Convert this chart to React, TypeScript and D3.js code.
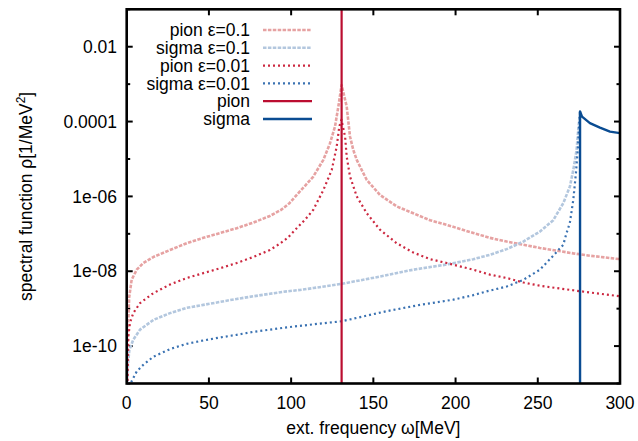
import React from "react";
import * as d3 from "d3";

// ω [MeV] values and spectral function ρ [1/MeV²]
const pionEps01W = [0.3, 0.8, 1.5, 3.0, 6.1, 10.1, 16.2, 26.3, 36.5, 46.6, 56.7, 66.9, 77.0, 87.1, 94, 99, 104, 109, 113.5, 119.6, 123.6, 126.7, 128.7, 130.7, 133.8, 135.8, 137.8, 139.9, 142.9, 146.0, 154.0, 164.2, 174.3, 184.5, 194.6, 202.7, 210.8, 220.9, 231.1, 241.2, 251.3, 261.5, 271.6, 281.8, 300];
const pionEps01V = [6.3e-12, 3.2e-10, 2.0e-9, 5.9e-9, 1.1e-8, 1.66e-8, 2.4e-8, 3.7e-8, 5.6e-8, 7.8e-8, 1.05e-7, 1.41e-7, 2.0e-7, 3.0e-7, 4.4e-7, 6.6e-7, 1.17e-6, 2.04e-6, 3.4e-6, 9.5e-6, 2.6e-5, 7.4e-5, 2.5e-4, 9.5e-4, 2.5e-4, 4.0e-5, 1.74e-5, 9.5e-6, 5.1e-6, 2.75e-6, 1.1e-6, 5.4e-7, 3.55e-7, 2.3e-7, 1.74e-7, 1.35e-7, 1.05e-7, 7.8e-8, 6.2e-8, 5.1e-8, 4.2e-8, 3.55e-8, 3.0e-8, 2.6e-8, 2.1e-8];

const sigmaEps01W = [0.3, 0.8, 1.6, 4.0, 8.1, 16.2, 26.3, 36.5, 46.6, 56.7, 66.9, 77.0, 87.1, 97.3, 105.4, 113.5, 130.7, 154.0, 174.3, 194.6, 210.8, 220.9, 231.1, 241.2, 251.3, 259.4, 265.5, 269.5, 271.6, 273.6, 274.6, 275.6, 275.7];
const sigmaEps01V = [7.9e-12, 3.2e-11, 7.9e-11, 1.48e-10, 2.75e-10, 5.0e-10, 7.6e-10, 1.05e-9, 1.26e-9, 1.51e-9, 1.82e-9, 2.14e-9, 2.5e-9, 2.9e-9, 3.16e-9, 3.55e-9, 4.6e-9, 7.2e-9, 1.1e-8, 1.51e-8, 2.1e-8, 2.75e-8, 3.9e-8, 6.2e-8, 1.15e-7, 2.3e-7, 6.6e-7, 1.82e-6, 5.1e-6, 1.74e-5, 6.0e-5, 1.66e-4, 1.86e-4];

const pionEps001W = [0.4, 1.0, 2.0, 4.0, 8.1, 16.2, 26.3, 36.5, 46.6, 56.7, 66.9, 77.0, 87.1, 93, 98, 103.4, 108.5, 113.5, 119.6, 124.7, 127.7, 129.3, 130.6, 131.8, 132.8, 133.8, 135.8, 139.9, 146.0, 154.0, 164.2, 174.3, 184.5, 194.6, 202.7, 210.8, 220.9, 231.1, 241.2, 251.3, 261.5, 271.6, 281.8, 300];
const pionEps001V = [6.3e-12, 1.82e-10, 4.2e-10, 7.6e-10, 1.41e-9, 2.6e-9, 4.4e-9, 6.6e-9, 8.9e-9, 1.2e-8, 1.66e-8, 2.4e-8, 3.7e-8, 5.4e-8, 7.9e-8, 1.41e-7, 2.4e-7, 4.4e-7, 1.48e-6, 5.1e-6, 2.14e-5, 7.4e-5, 1.12e-4, 6.3e-5, 4.0e-5, 1.15e-5, 3.4e-6, 1.0e-6, 3.55e-7, 1.29e-7, 5.6e-8, 3.16e-8, 2.1e-8, 1.66e-8, 1.35e-8, 1.1e-8, 8.1e-9, 6.6e-9, 5.0e-9, 4.1e-9, 3.55e-9, 3.1e-9, 2.7e-9, 2.14e-9];

const sigmaEps001W = [2.5, 3.0, 6.1, 10.1, 16.2, 26.3, 36.5, 46.6, 56.7, 66.9, 77.0, 87.1, 97.3, 105.4, 117.6, 130.7, 157.7, 178.3, 198.6, 210.8, 218.9, 231.1, 241.2, 251.3, 259.4, 265.5, 267.5, 269.5, 271.6, 273.2, 274.3, 275.2, 275.7];
const sigmaEps001V = [7.9e-12, 1.15e-11, 2.1e-11, 3.16e-11, 5.2e-11, 8.3e-11, 1.15e-10, 1.41e-10, 1.7e-10, 2.0e-10, 2.4e-10, 2.75e-10, 3.16e-10, 3.47e-10, 4.0e-10, 4.6e-10, 8.5e-10, 1.26e-9, 1.74e-9, 2.3e-9, 2.9e-9, 3.9e-9, 5.9e-9, 1.1e-8, 2.6e-8, 5.1e-8, 1.05e-7, 1.95e-7, 8.1e-7, 4.2e-6, 1.74e-5, 9.1e-5, 1.86e-4];

const pionW = [130.7, 130.7];
const pionV = [1e-20, 1e2];

const sigmaW = [275.7, 275.7, 276.9, 281.7, 287.8, 293.9, 300];
const sigmaV = [1e-20, 1.86e-4, 1.35e-4, 9.1e-5, 6.9e-5, 5.4e-5, 4.9e-5];

const seriesNames = ["pion ε=0.1", "sigma ε=0.1", "pion ε=0.01", "sigma ε=0.01", "pion", "sigma"];
const xTicks = [0, 50, 100, 150, 200, 250, 300];
const yMajorTicks = [1e-10, 1e-8, 1e-6, 1e-4, 1e-2];
const yMajorLabels = ["1e-10", "1e-08", "1e-06", "0.0001", "0.01"];
const yMinorTicks = [1e-11, 1e-9, 1e-7, 1e-5, 1e-3, 1e-1];

const FONT = "'Liberation Sans', Arial, Helvetica, sans-serif";
const FS = 17.5;

export default function App() {
  const W = 638, H = 441;
  const left = 126.7, right = 620, top = 9.3, bottom = 383.5;
  const x = d3.scaleLinear().domain([0, 300]).range([left, right]);
  const y = d3.scaleLog().domain([1e-11, 0.1]).range([bottom, top]);

  const styles = [
    { color: "#e6a2a2", width: 2.6, dash: "3.5,1.4" },
    { color: "#b3c7de", width: 2.6, dash: "3.5,1.4" },
    { color: "#cc2840", width: 2.2, dash: "2,3" },
    { color: "#3a72b2", width: 2.2, dash: "2,3" },
    { color: "#bb0d30", width: 2.2, dash: "" },
    { color: "#0a4c92", width: 2.4, dash: "" },
  ];
  const data: [number[], number[]][] = [
    [pionEps01W, pionEps01V],
    [sigmaEps01W, sigmaEps01V],
    [pionEps001W, pionEps001V],
    [sigmaEps001W, sigmaEps001V],
    [pionW, pionV],
    [sigmaW, sigmaV],
  ];
  const line = d3
    .line<[number, number]>()
    .x((d) => x(d[0]))
    .y((d) => y(d[1]));

  const legendRowY = (i: number) => 30 + i * 17.8;

  return (
    <svg width={W} height={H} style={{ display: "block", position: "absolute", left: 0, top: 0 }} fontFamily={FONT}>
      <rect x={0} y={0} width={W} height={H} fill="#fff" />
      <defs>
        <clipPath id="plotclip">
          <rect x={left} y={top} width={right - left} height={bottom - top} />
        </clipPath>
      </defs>

      {/* ticks */}
      {xTicks.slice(1, -1).map((t) => (
        <g key={"xt" + t} stroke="#000" strokeWidth={2}>
          <line x1={x(t)} x2={x(t)} y1={bottom} y2={bottom - 6} />
          <line x1={x(t)} x2={x(t)} y1={top} y2={top + 6} />
        </g>
      ))}
      {yMajorTicks.map((t) => (
        <g key={"ym" + t} stroke="#000" strokeWidth={2}>
          <line x1={left} x2={left + 6} y1={y(t)} y2={y(t)} />
          <line x1={right} x2={right - 6} y1={y(t)} y2={y(t)} />
        </g>
      ))}
      {yMinorTicks.map((t) => (
        <g key={"yn" + t} stroke="#000" strokeWidth={2}>
          <line x1={left} x2={left + 3.5} y1={y(t)} y2={y(t)} />
          <line x1={right} x2={right - 3.5} y1={y(t)} y2={y(t)} />
        </g>
      ))}

      {/* curves */}
      <g clipPath="url(#plotclip)">
        {data.map(([ws, vs], i) => (
          <path
            key={"s" + i}
            d={line(ws.map((w, j) => [w, vs[j]] as [number, number])) || ""}
            fill="none"
            stroke={styles[i].color}
            strokeWidth={styles[i].width}
            strokeDasharray={styles[i].dash || undefined}
            strokeLinejoin="round"
          />
        ))}
      </g>

      {/* frame */}
      <rect x={left} y={top} width={right - left} height={bottom - top} fill="none" stroke="#000" strokeWidth={2.6} />

      {/* tick labels */}
      {xTicks.map((t) => (
        <text key={"xl" + t} x={x(t)} y={408.5} textAnchor="middle" fontSize={FS} fill="#000">
          {t}
        </text>
      ))}
      {yMajorTicks.map((t, i) => (
        <text key={"yl" + t} x={117} y={y(t) + 6.2} textAnchor="end" fontSize={FS} fill="#000">
          {yMajorLabels[i]}
        </text>
      ))}

      {/* axis titles */}
      <text x={(left + right) / 2} y={433.5} textAnchor="middle" fontSize={FS} fill="#000">
        ext. frequency ω[MeV]
      </text>
      <text transform={`translate(32,${(top + bottom) / 2}) rotate(-90)`} textAnchor="middle" fontSize={FS} fill="#000">
        spectral function ρ[1/MeV
        <tspan fontSize={12} dy={-7}>2</tspan>
        <tspan dy={7}>]</tspan>
      </text>

      {/* legend */}
      {seriesNames.map((name, i) => (
        <g key={"lg" + i}>
          <text x={250} y={legendRowY(i) + 6.2} textAnchor="end" fontSize={FS} fill="#000">
            {name}
          </text>
          <line
            x1={263}
            x2={312}
            y1={legendRowY(i)}
            y2={legendRowY(i)}
            stroke={styles[i].color}
            strokeWidth={styles[i].width}
            strokeDasharray={styles[i].dash || undefined}
          />
        </g>
      ))}
    </svg>
  );
}
